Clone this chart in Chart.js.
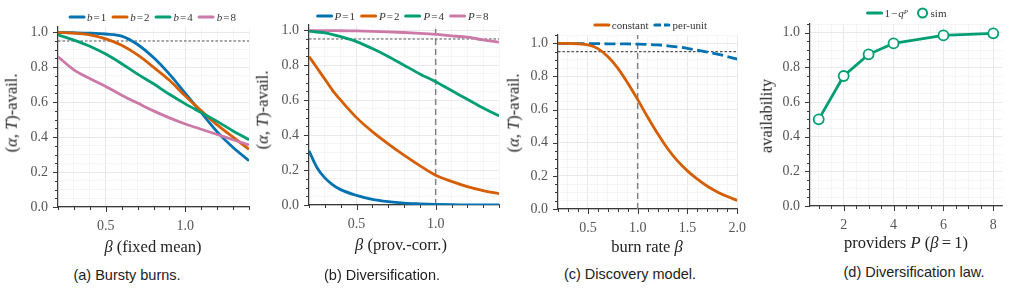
<!DOCTYPE html>
<html><head><meta charset="utf-8">
<script src="https://cdn.jsdelivr.net/npm/chart.js@4.4.1/dist/chart.umd.min.js"></script>
<style>
body{margin:0;width:1009px;height:294px;background:#fff;position:relative;overflow:hidden;font-family:"Liberation Serif",serif;}
canvas{position:absolute;}
.t{position:absolute;transform:translate(-50%,-50%);white-space:nowrap;color:#222;line-height:1;}
.yt{transform:translate(-50%,-50%) rotate(-90deg);}
.cap{font-family:"Liberation Sans",Arial,sans-serif;font-size:14.5px;color:#222;}
.ax{font-size:16.5px;color:#222;}
.leg{font-size:11px;display:flex;align-items:center;color:#333;}
.sw{display:inline-block;width:17px;height:3.5px;border-radius:2px;margin-right:2px;}
.mk{display:inline-block;width:7px;height:7px;border-radius:50%;border:2px solid #009E73;background:#fff;margin-right:3px;}
.item{display:flex;align-items:center;margin:0 2.5px;}
.eq{margin:0 1px;}
</style></head><body>

<canvas id="ca"></canvas><canvas id="cb"></canvas><canvas id="cc"></canvas><canvas id="cd"></canvas>

<div class="t leg" style="left:152px;top:17px">
 <span class="item"><span class="sw" style="background:#0072B2"></span><i>b</i><span class="eq">=</span>1</span>
 <span class="item"><span class="sw" style="background:#D55E00"></span><i>b</i><span class="eq">=</span>2</span>
 <span class="item"><span class="sw" style="background:#009E73"></span><i>b</i><span class="eq">=</span>4</span>
 <span class="item"><span class="sw" style="background:#CC79A7"></span><i>b</i><span class="eq">=</span>8</span>
</div>
<div class="t leg" style="left:402px;top:16px">
 <span class="item"><span class="sw" style="background:#0072B2"></span><i>P</i><span class="eq">=</span>1</span>
 <span class="item"><span class="sw" style="background:#D55E00"></span><i>P</i><span class="eq">=</span>2</span>
 <span class="item"><span class="sw" style="background:#009E73"></span><i>P</i><span class="eq">=</span>4</span>
 <span class="item"><span class="sw" style="background:#CC79A7"></span><i>P</i><span class="eq">=</span>8</span>
</div>
<div class="t leg" style="left:650px;top:25px">
 <span class="item"><span class="sw" style="background:#D55E00"></span>constant</span>
 <span class="item"><span class="sw" style="background:linear-gradient(90deg,#0072B2 0 45%,transparent 45% 60%,#0072B2 60% 100%)"></span>per-unit</span>
</div>
<div class="t leg" style="left:906px;top:13px">
 <span class="item"><span class="sw" style="background:#009E73"></span>1<span class="eq">&#8722;</span><i>q</i><sup style="font-size:7px;font-style:italic;position:relative;top:-1px">P</sup></span>
 <span class="item" style="margin-left:6px"><span class="mk"></span>sim</span>
</div>

<div class="t ax yt" style="left:12px;top:113px">(<i>α</i>, <i>T</i>)-avail.</div>
<div class="t ax yt" style="left:263px;top:110px">(<i>α</i>, <i>T</i>)-avail.</div>
<div class="t ax yt" style="left:514px;top:113px">(<i>α</i>, <i>T</i>)-avail.</div>
<div class="t ax yt" style="left:767px;top:116px">availability</div>

<div class="t ax" style="left:153px;top:247px"><i>β</i> (fixed mean)</div>
<div class="t ax" style="left:401px;top:245px"><i>β</i> (prov.-corr.)</div>
<div class="t ax" style="left:647px;top:247px">burn rate <i>β</i></div>
<div class="t ax" style="left:906px;top:243px">providers <i>P</i> (<i>β</i>&#8201;=&#8201;1)</div>

<div class="t cap" style="left:127px;top:275px">(a) Bursty burns.</div>
<div class="t cap" style="left:382px;top:275px">(b) Diversification.</div>
<div class="t cap" style="left:630px;top:274px">(c) Discovery model.</div>
<div class="t cap" style="left:914px;top:272px">(d) Diversification law.</div>

<script>
// ---- data ----
const betaA = [0.2,0.3,0.4,0.5,0.6,0.7,0.8,0.9,1.0,1.1,1.2,1.3,1.4];
const burstB1 = [0.998,0.997,0.995,0.99,0.978,0.93,0.855,0.76,0.65,0.54,0.43,0.34,0.265];
const burstB2 = [0.998,0.995,0.985,0.962,0.925,0.87,0.80,0.725,0.635,0.55,0.47,0.40,0.33];
const burstB4 = [0.985,0.955,0.92,0.875,0.82,0.76,0.705,0.645,0.59,0.54,0.49,0.435,0.385];
const burstB8 = [0.86,0.785,0.735,0.69,0.64,0.595,0.55,0.51,0.475,0.445,0.415,0.385,0.355];

const betaB = [0.2,0.25,0.3,0.35,0.4,0.5,0.6,0.7,0.8,0.9,1.0,1.1,1.2,1.3,1.4];
const divP1 = [0.31,0.215,0.155,0.115,0.088,0.055,0.032,0.019,0.011,0.007,0.004,0.002,0.001,0.001,0.0];
const divP2 = [0.85,0.785,0.72,0.655,0.60,0.50,0.42,0.35,0.285,0.225,0.17,0.135,0.105,0.082,0.065];
const divP4 = [0.995,0.99,0.985,0.975,0.963,0.935,0.895,0.85,0.80,0.75,0.705,0.655,0.605,0.555,0.51];
const divP8 = [0.998,0.998,0.998,0.998,0.997,0.996,0.994,0.991,0.987,0.982,0.976,0.968,0.96,0.945,0.932];

const betaC = [0.2,0.3,0.4,0.5,0.6,0.7,0.8,0.9,1.0,1.1,1.2,1.3,1.4,1.5,1.6,1.7,1.8,1.9,2.0];
const discConstant = [1.0,0.999,0.997,0.99,0.968,0.92,0.85,0.76,0.66,0.555,0.455,0.365,0.29,0.23,0.18,0.137,0.103,0.075,0.052];
const discPerUnit = [0.999,0.999,0.998,0.998,0.998,0.997,0.997,0.996,0.995,0.993,0.99,0.985,0.978,0.97,0.958,0.947,0.935,0.92,0.905];

const providers = [1,2,3,4,6,8];
const lawCurve = [0.5,0.75,0.875,0.938,0.984,0.996];
const lawSim = [0.5,0.75,0.875,0.938,0.984,0.996];

const threshold = 0.95;
const refBeta = 1.0;

// ---- helpers ----
Chart.defaults.font.family = "'Liberation Serif', 'Times New Roman', serif";
Chart.defaults.font.size = 14;
const C = {blue:'#0072B2', orange:'#D55E00', green:'#009E73', pink:'#CC79A7'};
const isMult = (v,s) => Math.abs(v/s - Math.round(v/s)) < 1e-6;
const pts = (xs, ys) => xs.map((x,i)=>({x, y:ys[i]}));

const tickPlugin = {
  id:'mticks',
  afterDraw(chart, args, o){
    const ctx = chart.ctx, xs = chart.scales.x, ys = chart.scales.y;
    ctx.save(); ctx.strokeStyle = '#3a3a3a'; ctx.lineWidth = 1;
    xs.ticks.forEach(t=>{
      const v = t.value; let len;
      if (isMult(v,o.xMajor)) len = 5; else if (isMult(v,o.xMinor)) len = 3; else return;
      const px = Math.round(xs.getPixelForValue(v)) + 0.5;
      ctx.beginPath(); ctx.moveTo(px, xs.top); ctx.lineTo(px, xs.top + len); ctx.stroke();
    });
    ys.ticks.forEach(t=>{
      const v = t.value; let len;
      if (isMult(v,o.yMajor)) len = 5; else if (isMult(v,o.yMinor)) len = 3; else return;
      const py = Math.round(ys.getPixelForValue(v)) + 0.5;
      ctx.beginPath(); ctx.moveTo(ys.right, py); ctx.lineTo(ys.right - len, py); ctx.stroke();
    });
    ctx.restore();
  }
};

function curve(xs, ys, color, extra){
  return Object.assign({data:pts(xs,ys), borderColor:color, borderWidth:2.8, pointRadius:0,
    tension:0.4, cubicInterpolationMode:'monotone', fill:false, order:1}, extra||{});
}
function hline(x0,x1,y){
  return {data:[{x:x0,y},{x:x1,y}], borderColor:'#555', borderWidth:1.2, borderDash:[2.5,2], pointRadius:0, order:5};
}
function vline(x,y0,y1){
  return {data:[{x,y:y0},{x,y:y1}], borderColor:'#808080', borderWidth:1.5, borderDash:[6,4], pointRadius:0, order:5};
}

function panel(id, g, xc, yc, datasets){
  const cv = document.getElementById(id);
  const cl = g.L - 50, pr = g.pr, w = g.R + pr - cl, h = g.B + 35;
  cv.style.left = cl + 'px'; cv.style.top = '0px';
  cv.width = w; cv.height = h; cv.style.width = w + 'px'; cv.style.height = h + 'px';
  const axFont = {family:"'Liberation Serif', 'Times New Roman', serif", size:14};
  const gridCol = (maj, min) => c => {
    const v = c.tick ? c.tick.value : 0;
    if (isMult(v, maj)) return '#e3e3e3';
    if (isMult(v, min)) return '#f2f2f2';
    return 'rgba(0,0,0,0)';
  };
  new Chart(cv, {
    type:'line',
    data:{datasets},
    plugins:[tickPlugin],
    options:{
      responsive:false, animation:false, devicePixelRatio:1,
      layout:{padding:{top:g.T, right:pr, left:0, bottom:0}},
      plugins:{legend:{display:false}, tooltip:{enabled:false}, mticks:{xMajor:xc.major, xMinor:xc.minor, yMajor:yc.major, yMinor:yc.minor}},
      scales:{
        x:{type:'linear', min:xc.min, max:xc.max,
          afterFit(s){ s.height = 35; },
          border:{display:true, color:'#3a3a3a', width:1.2},
          grid:{drawTicks:false, color:gridCol(xc.major, xc.minor), lineWidth:0.8},
          ticks:{stepSize:xc.minor, includeBounds:false, autoSkip:false, maxRotation:0, padding:xc.pad, color:'#555', font:axFont,
            callback:v => isMult(v, xc.major) ? xc.fmt(v) : ''}},
        y:{type:'linear', min:yc.min, max:yc.max,
          afterFit(s){ s.width = 50; },
          border:{display:true, color:'#3a3a3a', width:1.2},
          grid:{drawTicks:false, color:gridCol(yc.major, yc.minor), lineWidth:0.8},
          ticks:{stepSize:yc.minor, includeBounds:false, autoSkip:false, padding:10, color:'#555', font:axFont,
            callback:v => isMult(v, yc.major) ? v.toFixed(1) : ''}}
      }
    }
  });
}

const f1 = v => v.toFixed(1), f0 = v => String(Math.round(v));
const yStd = (mx) => ({min:0, max:mx, major:0.2, minor:0.05});

panel('ca', {L:58, R:249, T:27, B:207, pr:15},
  {min:0.2, max:1.4, major:0.5, minor:0.1, fmt:f1, pad:11}, yStd(1.03),
  [hline(0.2,1.4,threshold),
   curve(betaA,burstB8,C.pink), curve(betaA,burstB4,C.green), curve(betaA,burstB2,C.orange), curve(betaA,burstB1,C.blue)]);

panel('cb', {L:309, R:499, T:25, B:205, pr:15},
  {min:0.2, max:1.4, major:0.5, minor:0.1, fmt:f1, pad:11}, yStd(1.03),
  [hline(0.2,1.4,threshold), vline(refBeta,0,1.03),
   curve(betaB,divP1,C.blue), curve(betaB,divP2,C.orange), curve(betaB,divP4,C.green), curve(betaB,divP8,C.pink)]);

panel('cc', {L:558, R:742, T:35, B:209, pr:15},
  {min:0.2, max:2.0, major:0.5, minor:0.1, fmt:f1, pad:11}, yStd(1.05),
  [hline(0.2,2.0,threshold), vline(refBeta,0,1.05),
   curve(betaC,discConstant,C.orange),
   curve(betaC,discPerUnit,C.blue,{borderDash:[11,4.5], borderWidth:2.8, borderCapStyle:'butt'})]);

panel('cd', {L:810, R:1002, T:24, B:206, pr:7},
  {min:0.65, max:8.35, major:2, minor:0.5, fmt:f0, pad:11}, yStd(1.05),
  [{data:pts(providers,lawCurve), borderColor:C.green, borderWidth:2.8, pointRadius:0, tension:0, order:2},
   {data:pts(providers,lawSim), showLine:false, pointRadius:5, pointBorderWidth:1.8,
    pointBorderColor:C.green, pointBackgroundColor:'#fff', borderColor:C.green, order:1}]);
</script>
</body></html>
